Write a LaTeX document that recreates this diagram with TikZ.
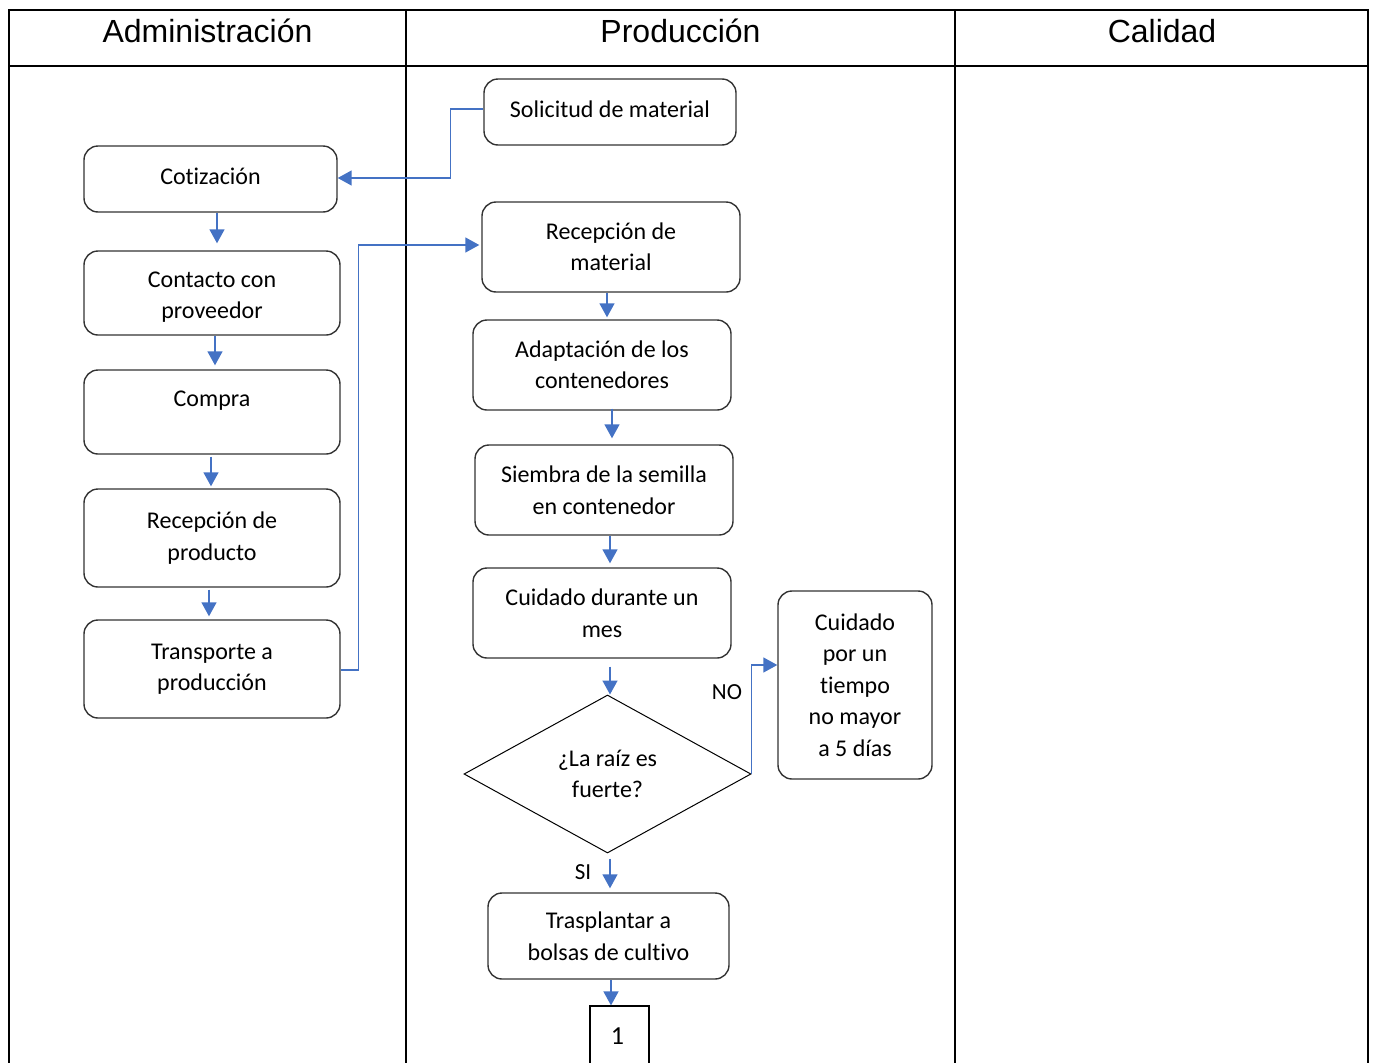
\documentclass[tikz,border=0pt]{standalone}
\usepackage{fontspec}
\setmainfont{Carlito}[Ligatures=NoCommon]
\newfontfamily\lanefont{Liberation Sans}
\usetikzlibrary{arrows.meta,shapes.geometric,calc}
\definecolor{flowblue}{HTML}{4472C4}
\definecolor{edge}{HTML}{333333}
\newcommand\boxfont{\fontsize{24}{31.5}\selectfont}
\newcommand\headsize{\lanefont\fontsize{32}{38}\selectfont}

\begin{document}
\begin{tikzpicture}[x=1pt,y=-1pt,
  lane/.style={line width=2.2pt,draw=black,line cap=rect},
  proc/.style={draw=edge,line width=1.4pt,rounded corners=14pt,inner sep=0pt,
    align=center,font=\boxfont},
  decide/.style={draw=black,line width=1pt,shape=diamond,inner sep=0pt,
    minimum width=287pt,minimum height=158pt,align=center,font=\boxfont},
  conn/.style={draw=black,line width=1.2pt,inner sep=0pt},
  txt/.style={inner sep=0pt,align=center,font=\boxfont},
  head/.style={anchor=base,inner sep=0pt,font=\headsize},
  flow/.style={draw=flowblue,line width=1.5pt,-{Triangle[length=14pt,width=15pt]}}]

\useasboundingbox (0,0) rectangle (1374,1063);

% swimlane table
\draw[lane] (9,1075) -- (9,10) -- (1368,10) -- (1368,1075);
\draw[lane] (9,66) -- (1368,66);
\draw[lane] (406,10) -- (406,1075);
\draw[lane] (955,10) -- (955,1075);

\node[head] (h-adm) at (207.5,42) {Administración};
\node[head] (h-pro) at (680.5,42) {Producción};
\node[head] (h-cal) at (1162,42) {Calidad};

% Administración lane
\node[proc,minimum width=253pt,minimum height=66pt] (cot) at (210.5,179) {};
\node[txt] (cot-t) at (210.5,176) {Cotización};
\node[proc,minimum width=256pt,minimum height=84pt] (con) at (212,293) {};
\node[txt] (con-t) at (212,297) {Contacto con\\proveedor};
\node[proc,minimum width=256pt,minimum height=84pt] (com) at (212,412) {};
\node[txt] (com-t) at (212,401) {Compra};
\node[proc,minimum width=256pt,minimum height=98pt] (rp) at (212,538) {Recepción de\\producto};
\node[proc,minimum width=256pt,minimum height=98pt] (tr) at (212,669) {Transporte a\\producción};

% Producción lane
\node[proc,minimum width=252pt,minimum height=66pt] (sol) at (610,112) {};
\node[txt] (sol-t) at (610,109) {Solicitud de material};
\node[proc,minimum width=258pt,minimum height=90pt] (rm) at (611,247) {Recepción de\\material};
\node[proc,minimum width=258pt,minimum height=90pt] (ad) at (602,365) {Adaptación de los\\contenedores};
\node[proc,minimum width=258pt,minimum height=90pt] (si) at (604,490) {Siembra de la semilla\\en contenedor};
\node[proc,minimum width=258pt,minimum height=90pt] (cu) at (602,613) {Cuidado durante un\\mes};
\node[decide] (dia) at (607.5,774) {¿La raíz es\\fuerte?};
\node[proc,minimum width=154pt,minimum height=188pt] (cp) at (855,685)
  {Cuidado\\por un\\tiempo\\no mayor\\a 5 días};
\node[proc,minimum width=241pt,minimum height=86pt] (tras) at (608.5,936) {Trasplantar a\\bolsas de cultivo};
\node[conn,minimum width=59pt,minimum height=100pt] (one) at (619.5,1056) {};
\node[txt,font=\fontsize{26}{31}\selectfont] (one-t) at (617.5,1036) {1};

% connectors
\draw[flow] ([yshift=3pt]sol.west) -- ++(-33,0) |- ([yshift=1pt]cot.east);
\draw[flow,shorten >=7pt] ([xshift=6.5pt]cot.south) coordinate (c1) -- (c1 |- con.north);
\draw[flow,shorten >=4pt] ([xshift=3pt]con.south) coordinate (c2) -- (c2 |- com.north);
\draw[flow,shorten <=2pt,shorten >=2pt] ([xshift=-1pt]com.south) coordinate (c3) -- (c3 |- rp.north);
\draw[flow,shorten <=2pt,shorten >=3pt] ([xshift=-3pt]rp.south) coordinate (c4) -- (c4 |- tr.north);
\draw[flow,shorten >=2pt] ([yshift=-1pt]tr.east) -- ++(18,0) |- ([yshift=2pt]rm.west);
\draw[flow,shorten >=2pt] ([xshift=-4pt]rm.south) coordinate (c5) -- (c5 |- ad.north);
\draw[flow,shorten <=-2pt,shorten >=6pt] ([xshift=10pt]ad.south) coordinate (c6) -- (c6 |- si.north);
\draw[flow,shorten >=4pt] ([xshift=6pt]si.south) coordinate (c7) -- (c7 |- cu.north);
\draw[flow,shorten <=8pt] ([xshift=8pt]cu.south) coordinate (c8) -- (c8 |- dia.north);
\draw[flow,shorten <=5pt,shorten >=4pt] ([xshift=2.5pt]dia.south) coordinate (c9) -- (c9 |- tras.north);
\draw[flow] (dia.east) |- ([yshift=20pt]cp.west);
\draw[flow] ([xshift=2.5pt]tras.south) coordinate (c10) -- (c10 |- one.north);

\node[txt,font=\fontsize{23}{28}\selectfont] (lbl-no) at (727,692) {NO};
\node[txt,font=\fontsize{23}{28}\selectfont] (lbl-si) at (583,872) {SI};
\end{tikzpicture}
\end{document}
